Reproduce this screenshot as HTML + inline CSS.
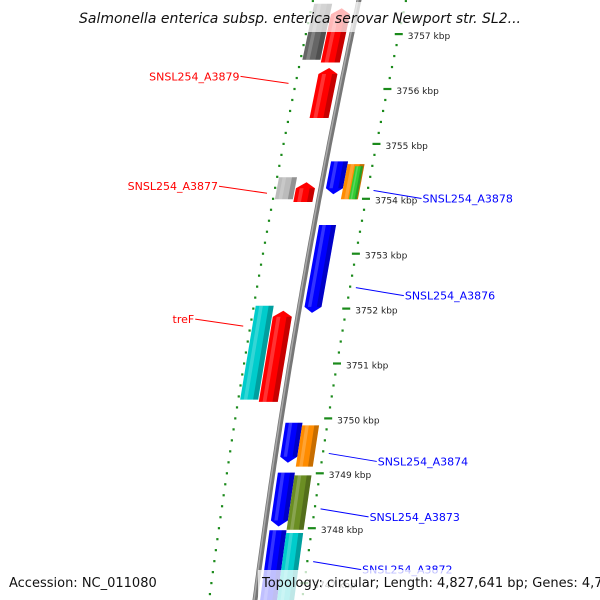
<!DOCTYPE html>
<html><head><meta charset="utf-8"><style>
body{margin:0;background:#fff}
svg{display:block;font-family:"DejaVu Sans","Liberation Sans",sans-serif}
</style></head><body>
<svg id="map" width="600" height="600" viewBox="0 0 600 600" xmlns="http://www.w3.org/2000/svg">
<g id="rings"></g>
<path id="backbone" fill="none" stroke="#777" stroke-width="5"></path>
<path id="backbone-hl" fill="none" stroke="#aaa" stroke-width="1.5"></path>
<g id="genes"></g>
<g id="ticks"></g>
<g id="labels"></g>
<rect x="80" y="2" width="440" height="30" fill="#fff" opacity="0.72"/>
<text x="300" y="23" text-anchor="middle" font-size="14" font-style="italic" fill="#111">Salmonella enterica subsp. enterica serovar Newport str. SL2...</text>
<rect x="4" y="570" width="146" height="24" fill="#fff" opacity="0.75"/>
<text x="9" y="587" font-size="13" fill="#111">Accession: NC_011080</text>
<rect x="258" y="570" width="340" height="30" fill="#fff" opacity="0.75"/>
<text x="262" y="587" font-size="13" fill="#111">Topology: circular; Length: 4,827,641 bp; Genes: 4,721</text>
</svg>
<script>
const geneStarts=[3757.55,3757.47,3756.38,3754.39,3754.30,3754.68,3754.63,3754.59,3753.52,3752.05,3751.96,3749.92,3749.87,3749.01,3748.96,3747.96,3747.91];
const geneEnds=[3756.53,3756.48,3755.47,3753.99,3753.94,3754.08,3753.99,3753.99,3751.92,3750.34,3750.30,3749.19,3749.12,3748.03,3747.97,3746.4,3746.4];
const geneStrands=[0,1,1,0,1,-1,0,0,-1,0,1,-1,0,-1,0,-1,0];
const geneTracks=[-2,-1,-1,-2,-1,1,2,3,1,-2,-1,1,2,1,2,1,2];
const geneColors=["#666666","#ff0000","#ff0000","#bbbbbb","#ff0000","#0000ff","#ff8c00","#33cc33","#0000ff","#00cccc","#ff0000","#0000ff","#ff8c00","#0000ff","#6b8e23","#0000ff","#00cccc"];
const labelNames=["SNSL254_A3879","SNSL254_A3877","treF","SNSL254_A3878","SNSL254_A3876","SNSL254_A3874","SNSL254_A3873","SNSL254_A3872"];
const labelKbp=[3756.1,3754.1,3751.68,3754.15,3752.38,3749.36,3748.35,3747.39];
const labelSides=[-1,-1,-1,1,1,1,1,1];
const tickKbp=[3757,3756,3755,3754,3753,3752,3751,3750,3749,3748,3747];

const NS="http://www.w3.org/2000/svg";
function yOf(k){return 34+(3757-k)*54.9;}
function bb(y){return 359-0.2154*y+7.02e-5*y*y;}
const trackO={"-2":[-44,-26],"-1":[-25,-6],"1":[5,22],"2":[22,39],"3":[30,38]};
function mk(tag,attrs,parent){const e=document.createElementNS(NS,tag);for(const k in attrs)e.setAttribute(k,attrs[k]);parent.appendChild(e);return e;}

// backbone
let d="";for(let y=-5;y<=605;y+=5){d+=(y===-5?"M":"L")+bb(y).toFixed(1)+" "+y+" ";}
document.getElementById("backbone").setAttribute("d",d);
let d2="";for(let y=-5;y<=605;y+=5){d2+=(y===-5?"M":"L")+(bb(y)-1).toFixed(1)+" "+y+" ";}
document.getElementById("backbone-hl").setAttribute("d",d2);

// rings
const rings=document.getElementById("rings");
for(let k=3757.8;k>=3746.6;k-=0.2){
  const kr=Math.round(k*10)/10;
  const y=yOf(kr);
  const isTick=Math.abs(kr-Math.round(kr))<0.01;
  const isHalf=Math.abs(kr-Math.round(kr))>0.49;
  [[47,isTick],[-46,isHalf]].forEach(([o,big])=>{
    const x=bb(y)+o;
    const r=mk("rect",big?{x:x-4,y:y-1,width:8,height:2.2}:{x:x-1,y:y-1,width:2.2,height:2.2},rings);
    r.setAttribute("fill","#1a8a1a");
    
    
  });
}

// genes
const genes=document.getElementById("genes");
for(let i=0;i<geneStarts.length;i++){
  const y1=yOf(geneStarts[i]),y2=yOf(geneEnds[i]);
  const [o1,o2]=trackO[geneTracks[i]];
  const L=y=>bb(y)+o1,R=y=>bb(y)+o2;
  const a=6;let pts;
  if(geneStrands[i]===1){
    pts=[[L(y2),y2],[R(y2),y2],[R(y1+a),y1+a],[(L(y1)+R(y1))/2,y1],[L(y1+a),y1+a]];
  }else if(geneStrands[i]===-1){
    pts=[[L(y1),y1],[R(y1),y1],[R(y2-a),y2-a],[(L(y2)+R(y2))/2,y2],[L(y2-a),y2-a]];
  }else{
    pts=[[L(y1),y1],[R(y1),y1],[R(y2),y2],[L(y2),y2]];
  }
  const g=mk("g",{},genes);
  
  
  mk("polygon",{points:pts.map(p=>p.join(",")).join(" "),fill:geneColors[i]},g);
  // shading strip on right
  const w=o2-o1;const s=o2-w*0.28;
  const sy1=geneStrands[i]===1?y1+a:y1, sy2=geneStrands[i]===-1?y2-a:y2;
  mk("polygon",{points:[[bb(sy1)+s,sy1],[bb(sy1)+o2,sy1],[bb(sy2)+o2,sy2],[bb(sy2)+s,sy2]].map(p=>p.join(",")).join(" "),fill:"#000",opacity:"0.22"},g);
  mk("polygon",{points:[[bb(sy1)+o1+w*0.2,sy1],[bb(sy1)+o1+w*0.4,sy1],[bb(sy2)+o1+w*0.4,sy2],[bb(sy2)+o1+w*0.2,sy2]].map(p=>p.join(",")).join(" "),fill:"#fff",opacity:"0.2"},g);
}

// tick labels
const ticks=document.getElementById("ticks");
tickKbp.forEach(k=>{
  const y=yOf(k);
  const t=mk("text",{x:bb(y)+56,y:y+5,"font-size":"9",fill:"#222"},ticks);
  t.textContent=k+" kbp";
  
  
});

// gene labels
const labels=document.getElementById("labels");
labelNames.forEach((n,i)=>{
  const y=yOf(labelKbp[i]);
  const side=labelSides[i];
  const col=side<0?"#ff0000":"#0000ff";
  const x0=bb(y)+side*53, x1=x0+side*48;
  const ln=mk("line",{x1:x0,y1:y,x2:x1,y2:y-side*-1*0+ (side<0?-7:8),stroke:col,"stroke-width":"1"},labels);
  
  
  const t=mk("text",{x:x1+side*1,y:(side<0?y-7:y+8)+4,"font-size":"11",fill:col,"text-anchor":side<0?"end":"start"},labels);
  t.textContent=n;
  
  
});
</script>
</body></html>
